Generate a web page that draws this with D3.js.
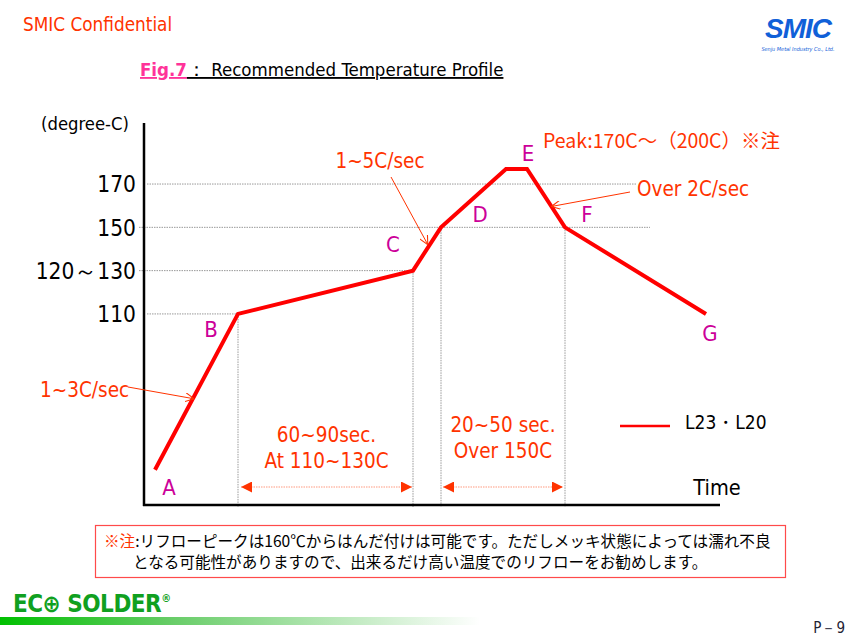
<!DOCTYPE html>
<html><head><meta charset="utf-8">
<script src="https://cdn.jsdelivr.net/npm/d3@7"></script>
<style>
body{margin:0;background:#fff;}
svg{display:block;}
text{font-family:"DejaVu Sans Condensed","DejaVu Sans",sans-serif;}
</style></head><body>
<svg id="c" width="850" height="637"></svg>
<script>
// ---- data ----
const pointNames = ["A","B","C","D","E","E2","F","G"];
const times      = [11, 94, 269, 297, 362, 383, 421, 562];   // arbitrary time units
const temps      = [38, 110, 130, 150, 177, 177, 150, 110];  // degree-C
const labelPoints = [
  {name:"A", t:25,  v:30},
  {name:"B", t:67,  v:103},
  {name:"C", t:249, v:142},
  {name:"D", t:336, v:156},
  {name:"E", t:384, v:184},
  {name:"F", t:443, v:156},
  {name:"G", t:566, v:101}
];
const yTickValues = [110, 130, 150, 170];
const yTickLabels = ["110", "120\uFF5E130", "150", "170"];
const gridEnds    = [94, 269, 506, 493];     // time where each horizontal guide ends
const vGuides     = [{t:94,v:110},{t:269,v:130},{t:297,v:150},{t:421,v:150}];
const spans = [
  {t0:97, t1:268, lines:["60~90sec.","At 110~130C"]},
  {t0:299, t1:419, lines:["20~50 sec.","Over 150C"]}
];
const seriesName = "L23\u30FBL20";

const svg = d3.select("#c");
const x = d3.scaleLinear().domain([0, 576]).range([144, 720]);
const y = d3.scaleLinear().domain([22.2, 198.2]).range([504, 123]);

const RED = "#ff0000", ORANGE = "#ff3300", MAG = "#cc0099";
const CJK = "\"Noto Sans CJK JP\",sans-serif";

// header
svg.append("text").attr("x",23).attr("y",31).attr("fill",ORANGE).attr("font-size",18.8).text("SMIC Confidential");
// logo
svg.append("text").attr("x",798).attr("y",38).attr("text-anchor","middle").attr("fill","#1060d8")
  .attr("font-size",28).attr("font-weight","bold").attr("font-style","italic")
  .style("font-family","Liberation Sans, Arial, sans-serif").attr("letter-spacing",-1).text("SMIC");
svg.append("text").attr("x",798).attr("y",51).attr("text-anchor","middle").attr("fill","#1060d8")
  .attr("font-size",5.5).attr("font-style","italic").text("Senju Metal Industry Co., Ltd.");

// title
const title = svg.append("text").attr("x",140).attr("y",76).attr("font-size",18.5);
title.append("tspan").attr("fill","#ff3399").attr("font-weight","bold").attr("text-decoration","underline").text("Fig.7");
title.append("tspan").attr("fill","#000").attr("text-decoration","underline").text("\uFF1A Recommended Temperature Profile");

// grid lines (horizontal)
const g = svg.append("g");
yTickValues.forEach((v,i)=>{
  g.append("line").attr("x1", v===150||v===130 ? 139 : 147).attr("x2", x(gridEnds[i]))
    .attr("y1", y(v)).attr("y2", y(v))
    .attr("stroke","#999").attr("stroke-width",1).attr("stroke-dasharray","1.5,1");
});
vGuides.forEach(d=>{
  g.append("line").attr("x1",x(d.t)).attr("x2",x(d.t)).attr("y1",y(d.v)).attr("y2",507)
    .attr("stroke","#999").attr("stroke-width",1).attr("stroke-dasharray","1.5,1");
});

// axes
const yAxis = d3.axisLeft(y).tickValues(yTickValues).tickFormat((d,i)=>yTickLabels[i]).tickSize(0).tickPadding(8);
const ya = svg.append("g").attr("transform","translate(144,0)").call(yAxis);
ya.select(".domain").remove();
ya.selectAll("text").attr("font-size",22.5).attr("fill","#000").attr("dy","0.35em")
  .style("font-family","\"DejaVu Sans Condensed\",\"DejaVu Sans\",sans-serif");
svg.append("line").attr("x1",144).attr("x2",144).attr("y1",123).attr("y2",506).attr("stroke","#000").attr("stroke-width",2.5);
svg.append("line").attr("x1",143).attr("x2",720).attr("y1",505).attr("y2",505).attr("stroke","#000").attr("stroke-width",2.5);
svg.append("text").attr("x",85).attr("y",130).attr("text-anchor","middle").attr("font-size",18.3).text("(degree-C)");
svg.append("text").attr("x",717).attr("y",495).attr("text-anchor","middle").attr("font-size",21.5).text("Time");

// profile line
const pts = times.map((t,i)=>[t,temps[i]]);
svg.append("path").datum(pts)
  .attr("d", d3.line().x(d=>x(d[0])).y(d=>y(d[1])))
  .attr("fill","none").attr("stroke",RED).attr("stroke-width",4).attr("stroke-linejoin","miter");

// point labels
labelPoints.forEach(d=>{
  svg.append("text").attr("x",x(d.t)).attr("y",y(d.v)).attr("text-anchor","middle").attr("dy","0.35em")
    .attr("fill",MAG).attr("font-size",22).text(d.name);
});

// arrow markers
const defs = svg.append("defs");
defs.append("marker").attr("id","open").attr("viewBox","0 0 10 10").attr("refX",9).attr("refY",5)
  .attr("markerWidth",9).attr("markerHeight",9).attr("markerUnits","userSpaceOnUse").attr("orient","auto")
  .append("path").attr("d","M0,0 L10,5 L0,10").attr("fill","none").attr("stroke",ORANGE).attr("stroke-width",1.2);
defs.append("marker").attr("id","tri").attr("viewBox","0 0 10 10").attr("refX",10).attr("refY",5)
  .attr("markerWidth",14).attr("markerHeight",11).attr("markerUnits","userSpaceOnUse").attr("orient","auto-start-reverse")
  .append("path").attr("d","M0,0 L10,5 L0,10 Z").attr("fill",ORANGE);

function callout(txt, tx, ty, anchor, x1, y1, x2, y2, fs){
  svg.append("text").attr("x",tx).attr("y",ty).attr("text-anchor",anchor).attr("fill",ORANGE).attr("font-size",fs||20.5).text(txt);
  svg.append("line").attr("x1",x1).attr("y1",y1).attr("x2",x2).attr("y2",y2)
    .attr("stroke",ORANGE).attr("stroke-width",1).attr("marker-end","url(#open)");
}
function along(i, f){ return [x(times[i]+(times[i+1]-times[i])*f), y(temps[i]+(temps[i+1]-temps[i])*f)]; }
// rate callouts (anchored to segments of the profile)
const mAB = along(0, 0.45);
callout("1~3C/sec", 40, 397, "start", 128, 387, mAB[0]+1, mAB[1]-1);
const mCD = along(2, 0.62);
callout("1~5C/sec", 380, 168, "middle", 391, 177, mCD[0]-3, mCD[1]);
const mEF = along(5, 0.64);
callout("Over 2C/sec", 637, 196, "start", 630, 192, mEF[0]+1, mEF[1]);
svg.append("text").attr("x",543).attr("y",148).attr("fill",ORANGE).attr("font-size",19.5)
  .style("font-family",CJK).text("Peak:170C\uFF5E\uFF08200C\uFF09\u203B\u6CE8");

// spans with double arrows
spans.forEach(s=>{
  const cx = (x(s.t0)+x(s.t1))/2;
  svg.append("line").attr("x1",x(s.t0)).attr("x2",x(s.t1)).attr("y1",487).attr("y2",487)
    .attr("stroke","#ff9a80").attr("stroke-width",1.2).attr("stroke-dasharray","1.5,1")
    .attr("marker-start","url(#tri)").attr("marker-end","url(#tri)");
  s.lines.forEach((l,i)=>{
    svg.append("text").attr("x",cx).attr("y",(s.t0<200?442:432)+i*26)
      .attr("text-anchor","middle").attr("fill",ORANGE).attr("font-size",20.5).text(l);
  });
});

// legend
svg.append("line").attr("x1",620).attr("x2",670).attr("y1",426).attr("y2",426).attr("stroke",RED).attr("stroke-width",2.5);
svg.append("text").attr("x",685).attr("y",429).attr("font-size",19).text(seriesName);

// note box
svg.append("rect").attr("x",95.5).attr("y",525.5).attr("width",690).attr("height",52)
  .attr("fill","none").attr("stroke","#ff4a4a").attr("stroke-width",1.2);
const n1 = svg.append("text").attr("x",104).attr("y",547).attr("font-size",15.6).style("font-family",CJK);
n1.append("tspan").attr("fill",ORANGE).text("\u203B\u6CE8");
n1.append("tspan").attr("fill","#000").text(":\u30EA\u30D5\u30ED\u30FC\u30D4\u30FC\u30AF\u306F160\u2103\u304B\u3089\u306F\u3093\u3060\u4ED8\u3051\u306F\u53EF\u80FD\u3067\u3059\u3002\u305F\u3060\u3057\u30E1\u30C3\u30AD\u72B6\u614B\u306B\u3088\u3063\u3066\u306F\u6FE1\u308C\u4E0D\u826F");
svg.append("text").attr("x",133).attr("y",568).attr("font-size",15.6).style("font-family",CJK)
  .text("\u3068\u306A\u308B\u53EF\u80FD\u6027\u304C\u3042\u308A\u307E\u3059\u306E\u3067\u3001\u51FA\u6765\u308B\u3060\u3051\u9AD8\u3044\u6E29\u5EA6\u3067\u306E\u30EA\u30D5\u30ED\u30FC\u3092\u304A\u52E7\u3081\u3057\u307E\u3059\u3002");

// footer
const grad = defs.append("linearGradient").attr("id","gbar").attr("x1","0").attr("x2","1");
grad.append("stop").attr("offset","0").attr("stop-color","#00c000");
grad.append("stop").attr("offset","0.35").attr("stop-color","#66cc66");
grad.append("stop").attr("offset","1").attr("stop-color","#ffffff");
svg.append("rect").attr("x",0).attr("y",617).attr("width",480).attr("height",8).attr("fill","url(#gbar)");
const eco = svg.append("text").attr("x",13).attr("y",612).attr("font-size",24).attr("font-weight","bold").attr("fill","#10a020")
  .style("font-family","\"DejaVu Sans Condensed\",\"DejaVu Sans\",sans-serif").attr("letter-spacing",-0.5);
eco.append("tspan").text("EC");
eco.append("tspan").text("\u2295");
eco.append("tspan").text(" SOLDER");
eco.append("tspan").attr("font-size",11).attr("dy",-10).text("\u00AE");
svg.append("text").attr("x",845).attr("y",633).attr("text-anchor","end").attr("font-size",15).attr("fill","#223").text("P\uFF0D9");
</script></body></html>
